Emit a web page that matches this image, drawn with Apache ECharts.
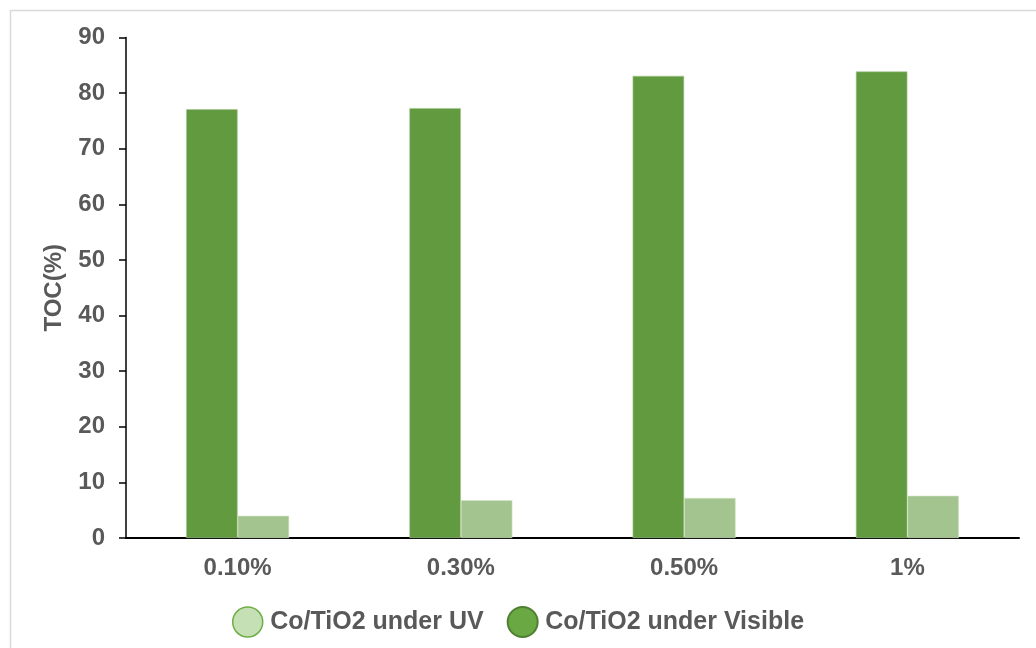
<!DOCTYPE html>
<html>
<head>
<meta charset="utf-8">
<style>
  html, body { margin: 0; padding: 0; background: #ffffff; }
  #chart { width: 1036px; height: 648px; }
</style>
<script src="https://cdn.jsdelivr.net/npm/echarts@6/dist/echarts.min.js"></script>
</head>
<body>
<div id="chart"></div>
<script>
// Catalyst loading levels
const categories = ['0.10%', '0.30%', '0.50%', '1%'];
// TOC removal (%) for each light source
const visibleValues = [77.1, 77.3, 83.1, 83.9];
const uvValues = [4.0, 6.8, 7.2, 7.6];
const yTicks = { min: 0, max: 90, interval: 10 };

const textColor = '#595959';
const fontFamily = 'Arial, "Liberation Sans", sans-serif';

const chart = echarts.init(document.getElementById('chart'), null, { renderer: 'canvas' });

chart.setOption({
  backgroundColor: '#ffffff',
  animation: false,
  graphic: [{
    type: 'rect',
    shape: { x: 10.5, y: 10.5, width: 1040, height: 660 },
    style: { fill: 'none', stroke: '#d9d9d9', lineWidth: 1.5 },
    silent: true,
    z: -1
  }],
  grid: { left: 126, right: 17, top: 37.5, bottom: 110, containLabel: false },
  legend: {
    bottom: 5,
    left: 'center',
    itemWidth: 35,
    itemHeight: 30,
    itemGap: 23,
    icon: 'circle',
    textStyle: { color: textColor, fontSize: 25, fontWeight: 'bold', fontFamily: fontFamily },
    data: [
      { name: 'Co/TiO2 under UV', itemStyle: { color: '#c5e0b4', borderColor: '#70ad47', borderWidth: 1.5 } },
      { name: 'Co/TiO2 under Visible', itemStyle: { color: '#6aa843', borderColor: '#4f7f30', borderWidth: 2 } }
    ]
  },
  xAxis: {
    type: 'category',
    data: categories,
    axisLine: { lineStyle: { color: '#000000', width: 2 } },
    axisTick: { show: false },
    axisLabel: { color: textColor, fontSize: 24, fontWeight: 'bold', fontFamily: fontFamily, margin: 18 },
    splitLine: { show: false }
  },
  yAxis: {
    type: 'value',
    min: yTicks.min,
    max: yTicks.max,
    interval: yTicks.interval,
    name: 'TOC(%)',
    nameLocation: 'middle',
    nameGap: 60,
    nameRotate: 90,
    nameTextStyle: { color: textColor, fontSize: 24, fontWeight: 'bold', fontFamily: fontFamily },
    axisLine: { show: true, lineStyle: { color: '#000000', width: 1.5 } },
    axisTick: { show: true, inside: false, length: 7, lineStyle: { color: '#000000', width: 1.5 } },
    axisLabel: { color: textColor, fontSize: 24, fontWeight: 'bold', fontFamily: fontFamily, margin: 21 },
    splitLine: { show: false }
  },
  series: [
    {
      name: 'Co/TiO2 under Visible',
      type: 'bar',
      data: visibleValues,
      barWidth: 51.5,
      barGap: '0%',
      itemStyle: { color: '#629a40', borderColor: '#a7c896', borderWidth: 0.6 }
    },
    {
      name: 'Co/TiO2 under UV',
      type: 'bar',
      data: uvValues,
      barWidth: 51.5,
      barGap: '0%',
      itemStyle: { color: '#a3c48f', borderColor: '#d3e4c8', borderWidth: 0.6 }
    }
  ]
});
</script>
</body>
</html>
